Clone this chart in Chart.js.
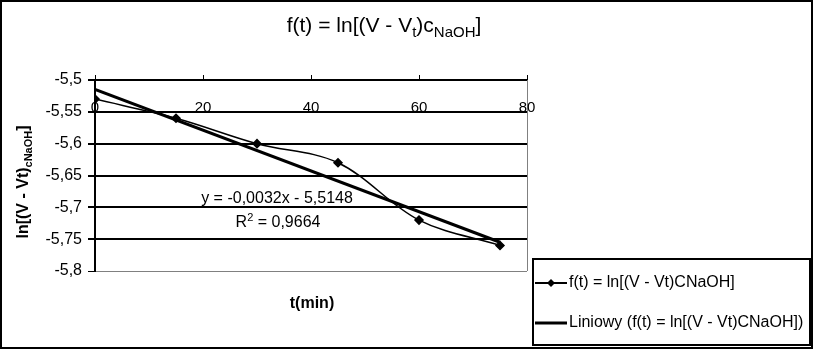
<!DOCTYPE html>
<html>
<head>
<meta charset="utf-8">
<script src="https://cdn.jsdelivr.net/npm/chart.js@4.4.1/dist/chart.umd.min.js"></script>
<style>
  body { margin: 0; background: #fff; }
  canvas { display: block; }
</style>
</head>
<body>
<canvas id="chart" width="813" height="351"></canvas>
<script>
// values
const times = [0, 15, 30, 45, 60, 75];
const lnValues = [-5.53, -5.56, -5.60, -5.63, -5.72, -5.76];
const trendTimes = [0, 75];
const trendValues = [-5.5148, -5.7548];
const xTicks = [0, 20, 40, 60, 80];
const yTicks = [-5.5, -5.55, -5.6, -5.65, -5.7, -5.75, -5.8];

const FONT = '"Liberation Sans", Arial, sans-serif';
const fmt = v => parseFloat(v.toFixed(2)).toString().replace('.', ',');

// draws text with small parts, parts = [[text, 0 normal | 1 sub | 2 sup], ...]
function drawRich(ctx, parts, x, y, size, weight, align) {
    const big = weight + ' ' + size + 'px ' + FONT;
    const small = weight + ' ' + Math.round(size * 0.7) + 'px ' + FONT;
    let total = 0;
    parts.forEach(p => { ctx.font = p[1] ? small : big; total += ctx.measureText(p[0]).width; });
    let cx = align === 'center' ? x - total / 2 : x;
    ctx.textAlign = 'left';
    ctx.textBaseline = 'alphabetic';
    parts.forEach(p => {
        ctx.font = p[1] ? small : big;
        const dy = p[1] === 1 ? size * 0.22 : (p[1] === 2 ? -size * 0.4 : 0);
        ctx.fillText(p[0], cx, y + dy);
        cx += ctx.measureText(p[0]).width;
    });
}

const textPlugin = {
    id: 'texts',
    beforeDatasetsDraw(chart) {
        const { ctx, chartArea } = chart;
        ctx.save();
        ctx.strokeStyle = '#808080';
        ctx.lineWidth = 1;
        ctx.beginPath();
        ctx.moveTo(chartArea.right + 0.5, chartArea.top);
        ctx.lineTo(chartArea.right + 0.5, chartArea.bottom);
        ctx.stroke();
        ctx.restore();
    },
    afterDraw(chart) {
        const { ctx, chartArea } = chart;
        const xs = chart.scales.x;
        ctx.save();
        ctx.fillStyle = '#000';

        // x tick labels sit below the top axis line
        ctx.font = '15px ' + FONT;
        ctx.textAlign = 'center';
        ctx.textBaseline = 'alphabetic';
        xTicks.forEach(v => ctx.fillText(String(v), xs.getPixelForValue(v), chartArea.top + 32));

        // title
        drawRich(ctx, [['f(t) = ln[(V - V', 0], ['t', 1], [')c', 0], ['NaOH', 1], [']', 0]], 384, 32, 21, 'normal', 'center');

        // axis titles
        ctx.font = 'bold 16px ' + FONT;
        ctx.textAlign = 'center';
        ctx.fillText('t(min)', 312, 308);
        ctx.save();
        ctx.translate(28, 182);
        ctx.rotate(-Math.PI / 2);
        drawRich(ctx, [['ln[(V - Vt)', 0], ['cNaOH', 1], [']', 0]], 0, 0, 16, 'bold', 'center');
        ctx.restore();

        // trendline equation
        ctx.font = '16px ' + FONT;
        ctx.textAlign = 'center';
        ctx.fillText('y = -0,0032x - 5,5148', 277, 203);
        drawRich(ctx, [['R', 0], ['2', 2], [' = 0,9664', 0]], 278, 227, 16, 'normal', 'center');

        // legend
        ctx.strokeStyle = '#000';
        ctx.lineWidth = 2;
        ctx.strokeRect(533, 259, 277, 86);
        const ds = chart.data.datasets;
        const rows = [283, 323];
        ds.forEach((d, i) => {
            const y = rows[i];
            ctx.lineWidth = d.pointRadius ? 2 : d.borderWidth;
            ctx.beginPath();
            ctx.moveTo(535, y);
            ctx.lineTo(567, y);
            ctx.stroke();
            if (d.pointRadius) {
                ctx.beginPath();
                ctx.moveTo(551, y - 4); ctx.lineTo(555, y); ctx.lineTo(551, y + 4); ctx.lineTo(547, y);
                ctx.closePath();
                ctx.fill();
            }
            ctx.font = '16px ' + FONT;
            ctx.textAlign = 'left';
            ctx.textBaseline = 'middle';
            ctx.fillText(d.label, 569, y);
            ctx.textBaseline = 'alphabetic';
        });

        // outer frame
        ctx.lineWidth = 2;
        ctx.strokeRect(1, 1, 811, 347);
        ctx.restore();
    }
};

new Chart(document.getElementById('chart'), {
    type: 'line',
    data: {
        datasets: [
            {
                label: 'f(t) = ln[(V - Vt)CNaOH]',
                data: times.map((t, i) => ({ x: t, y: lnValues[i] })),
                borderColor: '#000',
                borderWidth: 1.5,
                pointStyle: 'rectRot',
                pointRadius: 4,
                pointBackgroundColor: '#000',
                pointBorderColor: '#000',
                tension: 0.35,
                order: 1
            },
            {
                label: 'Liniowy (f(t) = ln[(V - Vt)CNaOH])',
                data: trendTimes.map((t, i) => ({ x: t, y: trendValues[i] })),
                borderColor: '#000',
                borderWidth: 3,
                pointRadius: 0,
                tension: 0,
                order: 2
            }
        ]
    },
    options: {
        responsive: false,
        animation: false,
        layout: { padding: { left: 0, top: 0, right: 286, bottom: 80 } },
        plugins: { legend: { display: false }, title: { display: false }, tooltip: { enabled: false } },
        scales: {
            x: {
                type: 'linear',
                position: 'top',
                min: 0,
                max: 80,
                afterBuildTicks: s => { s.ticks = xTicks.map(v => ({ value: v })); },
                afterFit: s => { s.height = 80; },
                ticks: { display: false },
                grid: { drawOnChartArea: false, drawTicks: true, tickLength: 5, color: '#000', lineWidth: 1 },
                border: { color: '#000', width: 2 }
            },
            y: {
                type: 'linear',
                min: -5.8,
                max: -5.5,
                afterBuildTicks: s => { s.ticks = yTicks.map(v => ({ value: v })); },
                afterFit: s => { s.width = 95; },
                ticks: { color: '#000', padding: 6, font: { family: FONT, size: 16 }, callback: v => fmt(v) },
                grid: {
                    color: c => (c.tick && c.tick.value === -5.8 ? '#808080' : '#000'),
                    lineWidth: c => (c.tick && c.tick.value === -5.8 ? 1 : 2),
                    tickColor: '#000',
                    tickLength: 7
                },
                border: { color: '#000', width: 2 }
            }
        }
    },
    plugins: [textPlugin]
});
</script>
</body>
</html>
